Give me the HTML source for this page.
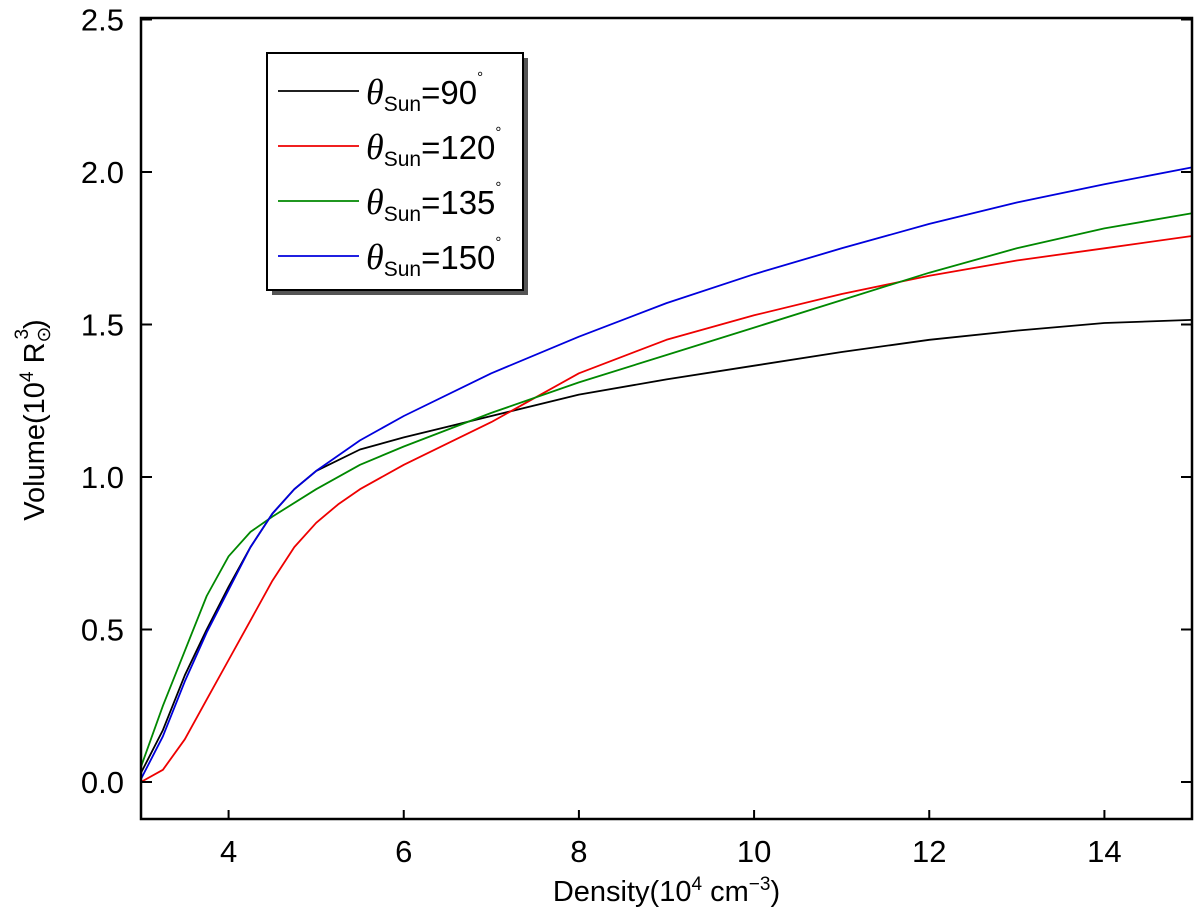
<!DOCTYPE html>
<html><head><meta charset="utf-8"><style>
html,body{margin:0;padding:0;background:#fff;}
svg{display:block;font-family:"Liberation Sans",sans-serif;}
</style></head><body>
<svg id="chart" width="1200" height="921" viewBox="0 0 1200 921">
<g id="plot"></g>
</svg>
<script>
const xTicks=[4,6,8,10,12,14];
const yTicks=[0.0,0.5,1.0,1.5,2.0,2.5];
const yTickLabels=["0.0","0.5","1.0","1.5","2.0","2.5"];
const seriesNames=["90","120","135","150"];
const seriesColors=["#000","#e00","#080","#00d"];
const x90=[3,3.25,3.5,3.75,4,4.25,4.5,4.75,5,5.5,6,6.5,7,8,9,10,11,12,13,14,15];
const y90=[0.03,0.17,0.35,0.5,0.64,0.77,0.88,0.96,1.02,1.09,1.13,1.165,1.2,1.27,1.32,1.365,1.41,1.45,1.48,1.505,1.515];
const x120=[3,3.25,3.5,3.75,4,4.25,4.5,4.75,5,5.25,5.5,6,6.5,7,7.5,8,9,10,11,12,13,14,15];
const y120=[0.0,0.04,0.14,0.27,0.4,0.53,0.66,0.77,0.85,0.91,0.96,1.04,1.11,1.18,1.26,1.34,1.45,1.53,1.6,1.66,1.71,1.75,1.79];
const x135=[3,3.25,3.5,3.75,4,4.25,4.5,5,5.5,6,7,8,9,10,11,12,13,14,15];
const y135=[0.05,0.25,0.43,0.61,0.74,0.82,0.87,0.96,1.04,1.1,1.21,1.31,1.4,1.49,1.58,1.67,1.75,1.815,1.865];
const x150=[3,3.25,3.5,3.75,4,4.25,4.5,4.75,5,5.5,6,7,8,9,10,11,12,13,14,15];
const y150=[0.01,0.15,0.33,0.49,0.63,0.77,0.88,0.96,1.02,1.12,1.2,1.34,1.46,1.57,1.665,1.75,1.83,1.9,1.96,2.015];

const L=141,R=1192,T=18,B=819;
const X=v=>L+(v-3)*(R-L)/12;
const Y=v=>782-v*305;
const NS="http://www.w3.org/2000/svg";
const g=document.getElementById('plot');
function mk(t,a){const e=document.createElementNS(NS,t);for(const k in a)e.setAttribute(k,a[k]);g.appendChild(e);return e;}

const xs=[x90,x120,x135,x150], ys=[y90,y120,y135,y150];
for(let s=0;s<4;s++){
  const d=xs[s].map((v,i)=>(i?'L':'M')+X(v).toFixed(1)+','+Y(ys[s][i]).toFixed(1)).join('');
  const p=mk('path',{d:d,fill:'none',stroke:seriesColors[s],'stroke-width':1.8,'stroke-linejoin':'round'});
  
  
}
const frame=mk('rect',{x:L,y:T,width:R-L,height:B-T,fill:'none',stroke:'#000','stroke-width':2.5});


xTicks.forEach(v=>{
  const t=mk('line',{x1:X(v),x2:X(v),y1:B,y2:B-9,stroke:'#000','stroke-width':2});
  
  
  const tx=mk('text',{x:X(v),y:B+43,'font-size':31,'text-anchor':'middle'});
  tx.textContent=v;
  
  
});
yTicks.forEach((v,i)=>{
  const t=mk('line',{x1:L,x2:L+11,y1:Y(v),y2:Y(v),stroke:'#000','stroke-width':2});
  
  
  const t2=mk('line',{x1:R,x2:R-11,y1:Y(v),y2:Y(v),stroke:'#000','stroke-width':2});
  
  
  const tx=mk('text',{x:L-17,y:Y(v)+11,'font-size':31,'text-anchor':'end'});
  tx.textContent=yTickLabels[i];
  
  
});
const xt=mk('text',{x:(L+R)/2,y:901,'font-size':29,'text-anchor':'middle'});
xt.innerHTML='Density(10<tspan font-size="19" dy="-11">4</tspan><tspan dy="11"> cm</tspan><tspan font-size="19" dy="-11">−3</tspan><tspan dy="11">)</tspan>';


const yt=mk('text',{x:0,y:0,'font-size':29,'text-anchor':'middle',transform:'translate(44,420) rotate(-90)'});
yt.innerHTML='Volume(10<tspan font-size="19" dy="-11">4</tspan><tspan dy="11"> R</tspan><tspan font-size="19" dy="6">⊙</tspan><tspan font-size="19" dx="-13" dy="-22">3</tspan><tspan dy="16">)</tspan>';


// legend
const sh=mk('rect',{x:272,y:58,width:256,height:237,fill:'#555'});


const lb=mk('rect',{x:267,y:53,width:256,height:237,fill:'#fff',stroke:'#000','stroke-width':2});


seriesNames.forEach((n,i)=>{
  const yy=91+i*55;
  const ln=mk('line',{x1:278,x2:359,y1:yy,y2:yy,stroke:seriesColors[i],'stroke-width':1.8});
  
  
  const tx=mk('text',{x:366,y:yy+13,'font-size':33});
  tx.innerHTML='<tspan font-family="Liberation Serif" font-style="italic" font-size="36">θ</tspan><tspan font-size="21" dy="7">Sun</tspan><tspan dy="-7">=</tspan><tspan>'+n+'</tspan><tspan font-size="15" dy="-22">°</tspan>';
  
  
});
</script>
</body></html>
